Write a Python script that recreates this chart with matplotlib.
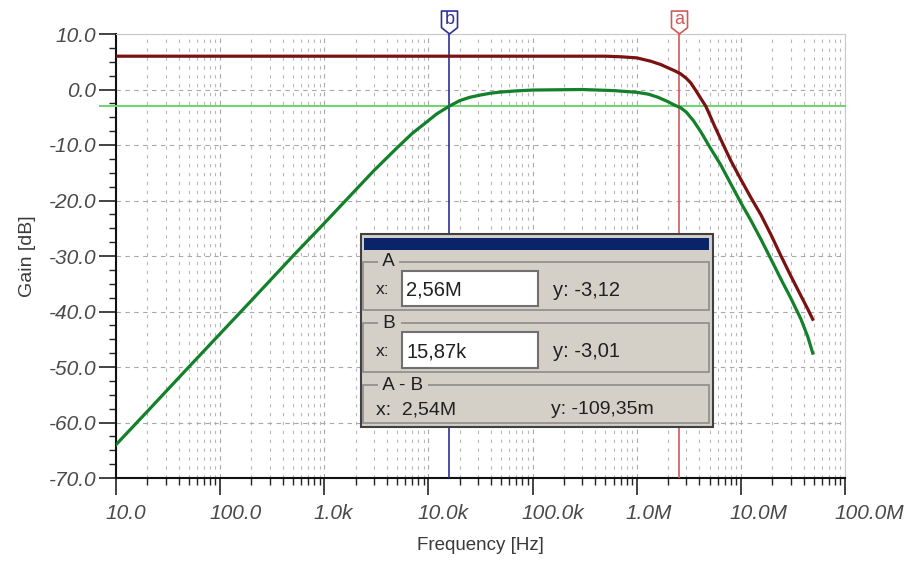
import matplotlib
matplotlib.use("Agg")
import matplotlib.pyplot as plt
import numpy as np
from matplotlib.patches import Rectangle
from matplotlib.path import Path
from matplotlib.ticker import FixedLocator, LogLocator, NullFormatter
import matplotlib.transforms as mtransforms

plt.rcParams['font.family'] = ['Liberation Sans', 'DejaVu Sans']

# ── Data ─────────────────────────────────────────────────────────
freq_red = [10, 100, 1e3, 1e4, 1e5, 3e5, 5e5, 7e5, 1e6, 1.36e6, 1.7e6, 2e6,
            2.3e6, 2.65e6, 3.0e6, 3.3e6, 3.7e6, 4.12e6, 4.6e6, 5.0e6, 5.6e6,
            6.42e6, 7.2e6, 8e6, 9e6, 10e6, 12.5e6, 15.6e6, 19.5e6, 24.3e6,
            30e6, 37.8e6, 44e6, 49e6]
gain_red = [6.0, 6.0, 6.0, 6.0, 6.0, 6.0, 6.0, 5.9, 5.7, 5.1, 4.5, 3.9,
            3.4, 2.8, 2.0, 1.2, -0.2, -1.6, -3.0, -4.5, -6.6,
            -9.0, -11.0, -12.8, -14.6, -16.2, -19.5, -22.6, -26.2, -30.0,
            -33.5, -37.2, -39.6, -41.4]

freq_grn = [10, 20, 50, 100, 200, 500, 1e3, 2e3, 3e3, 5e3, 7e3, 1e4, 1.2e4,
            15.87e3, 2e4, 2.5e4, 3.16e4, 4e4, 5e4, 7e4, 1e5, 3e5, 6e5, 1e6,
            1.3e6, 1.6e6, 2e6, 2.3e6, 2.65e6, 3.0e6, 3.5e6, 4.12e6, 5e6,
            6.42e6, 8e6, 10e6, 12.5e6, 15.6e6, 19.5e6, 24.3e6, 30e6, 37.8e6,
            44e6, 49e6]
gain_grn = [-64.0, -58.0, -50.0, -44.0, -38.0, -30.0, -24.1, -18.1, -14.6,
            -10.5, -7.9, -5.6, -4.4, -3.0, -2.0, -1.4, -1.0, -0.65, -0.45,
            -0.25, -0.1, 0.0, -0.2, -0.5, -0.85, -1.4, -2.2, -2.8, -3.3, -4.1,
            -5.6, -7.6, -10.3, -13.6, -17.0, -20.4, -23.6, -27.0, -30.6,
            -34.2, -37.5, -41.4, -44.6, -47.5]

cursor_a = 2.56e6
cursor_b = 15.87e3
level_3db = -3.01

xticks = [10, 100, 1e3, 1e4, 1e5, 1e6, 1e7, 1e8]
xticklabels = ["10.0", "100.0", "1.0k", "10.0k", "100.0k", "1.0M", "10.0M", "100.0M"]
yticks = [-70, -60, -50, -40, -30, -20, -10, 0, 10]

dlg_a = ("2,56M", "y: -3,12")
dlg_b = ("15,87k", "y: -3,01")
dlg_ab = ("x:  2,54M", "y: -109,35m")

# ── Figure ───────────────────────────────────────────────────────
W, H = 915, 561
fig = plt.figure(figsize=(W / 100, H / 100), dpi=100)
ax = fig.add_axes([116 / W, 1 - 478 / H, (845 - 116) / W, (478 - 34) / H])

ax.set_xscale('log')
ax.set_xlim(10, 1e8)
ax.set_ylim(-70, 10)

# grid
ax.xaxis.set_major_locator(FixedLocator(xticks))
ax.xaxis.set_minor_locator(LogLocator(base=10, subs=np.arange(2, 10)))
ax.xaxis.set_minor_formatter(NullFormatter())
ax.set_xticklabels(xticklabels)
ax.yaxis.set_major_locator(FixedLocator(yticks))
ax.yaxis.set_minor_locator(FixedLocator(np.arange(-70, 10.1, 2.5)))
ax.set_yticklabels([f"{v:.1f}" for v in yticks])

ax.grid(which='major', color='#a8a8a8', ls=(0, (4, 4)), lw=0.8)
ax.grid(which='minor', axis='x', color='#b8b8b8', ls=(0, (3, 5)), lw=0.8)

ax.tick_params(which='major', direction='out', length=12, width=1.2,
               colors='#222222', labelsize=15, labelcolor='#4a4a4a')
ax.tick_params(which='minor', direction='out', length=5, width=1.0, colors='#222222')
ax.tick_params(axis='x', which='major', pad=7)
ax.tick_params(axis='y', which='major', pad=2)
shift = mtransforms.ScaledTranslation(-11 / 100, 0, fig.dpi_scale_trans)
for lbl in ax.get_xticklabels():
    lbl.set_horizontalalignment('left')
    lbl.set_transform(lbl.get_transform() + shift)
for lbl in ax.get_xticklabels() + ax.get_yticklabels():
    lbl.set_fontstyle('italic')

for s in ['top', 'right']:
    ax.spines[s].set_color('#c8c8c8')
for s in ['left', 'bottom']:
    ax.spines[s].set_color('#111111')
    ax.spines[s].set_linewidth(1.5)

ax.set_xlabel("Frequency [Hz]", fontsize=13.5, color='#3a3a3a', labelpad=10)
ax.set_ylabel("Gain [dB]", fontsize=14, color='#3a3a3a', labelpad=9)

# curves
ax.plot(freq_red, gain_red, color='#7a1212', lw=2.3, zorder=4)
ax.plot(freq_grn, gain_grn, color='#13802a', lw=2.3, zorder=4)

# -3 dB level line (sticks out a bit left of the axis)
blend_y = mtransforms.blended_transform_factory(ax.transAxes, ax.transData)
ax.plot([-0.022, 1.0], [level_3db, level_3db], color='#6ad66a', lw=1.4,
        transform=blend_y, clip_on=False, zorder=3)

# cursors with flag markers
blend_x = mtransforms.blended_transform_factory(ax.transData, ax.transAxes)
flag = Path([(-0.7, 1.0), (0.7, 1.0), (0.7, -0.45), (0.0, -1.0),
             (-0.7, -0.45), (-0.7, 1.0)],
            [Path.MOVETO, Path.LINETO, Path.LINETO, Path.LINETO,
             Path.LINETO, Path.CLOSEPOLY])
for xc, col, letter in [(cursor_b, '#2f2f9a', 'b'), (cursor_a, '#d05a5a', 'a')]:
    ax.axvline(xc, color=col, lw=1.2, zorder=3)
    ax.plot([xc], [1.028], marker=flag, markersize=16.5, mfc='white', mec=col,
            mew=1.2, transform=blend_x, clip_on=False, zorder=5)
    ax.text(xc, 1.032, letter, color=col, fontsize=13, ha='center', va='center',
            transform=blend_x, clip_on=False, zorder=6)


# ── Cursor dialog (drawn in pixel positions on the figure) ──────
def box(x0, y0, x1, y1, **kw):
    r = Rectangle((x0 / W, 1 - y1 / H), (x1 - x0) / W, (y1 - y0) / H,
                  transform=fig.transFigure, **kw)
    fig.add_artist(r)


def txt(x, y, s, **kw):
    fig.text(x / W, 1 - y / H, s, va='center', zorder=12, color='#202020', **kw)


BG = '#d4d0c8'
box(361, 234, 713, 427, facecolor=BG, edgecolor='#404040', lw=1.5, zorder=10)
box(364, 238, 709, 250, facecolor='#0a246a', edgecolor='none', zorder=11)

groups = [(262, 310, "A", dlg_a), (323, 372, "B", dlg_b), (385, 423, "A - B", dlg_ab)]
for y0, y1, name, vals in groups:
    box(363, y0, 709, y1, facecolor='none', edgecolor='#8c8c8c', lw=1.2, zorder=11)
    txt(378, y0, " " + name + " ", fontsize=13.5,
        bbox=dict(facecolor=BG, edgecolor='none', pad=0))
    ymid = (y0 + y1) / 2 + 4
    if name == "A - B":
        txt(376, ymid + 2, vals[0], fontsize=14)
        txt(551, ymid + 2, vals[1], fontsize=14)
    else:
        box(402, y0 + 9, 538, y1 - 4, facecolor='white', edgecolor='#707070',
            lw=1.5, zorder=11)
        txt(376, ymid, "x:", fontsize=12.5)
        txt(406, ymid, vals[0], fontsize=14.5)
        txt(553, ymid, vals[1], fontsize=14.5)

fig.savefig("out.png", dpi=100)
